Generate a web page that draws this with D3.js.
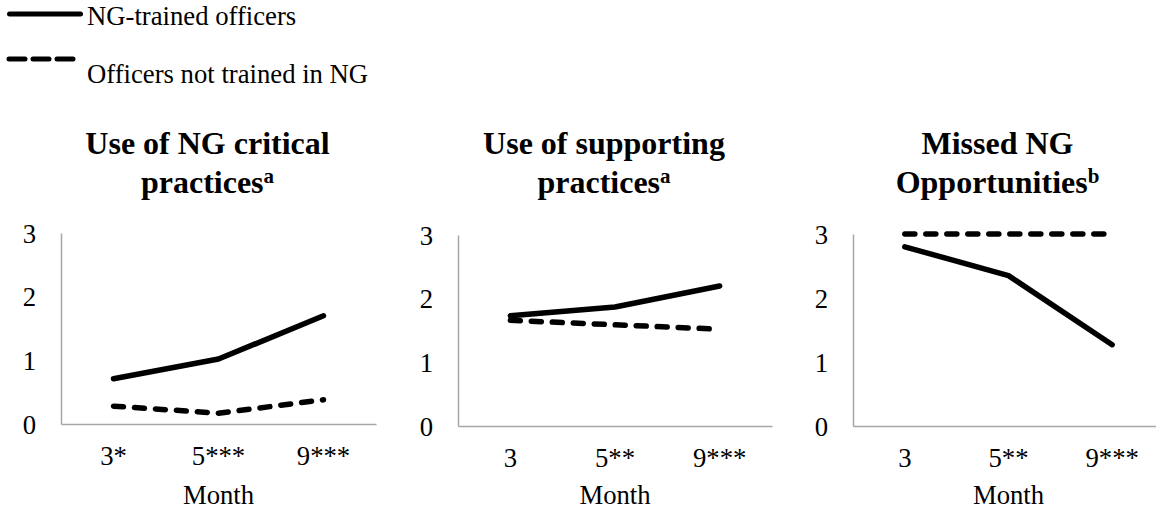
<!DOCTYPE html>
<html>
<head>
<meta charset="utf-8">
<script src="https://cdn.jsdelivr.net/npm/d3@7"></script>
<style>
  body { margin: 0; background: #fff; }
  text { font-family: "Liberation Serif", "Times New Roman", serif; fill: #000; }
</style>
</head>
<body>
<div id="main"></div>
<script>
// Datos
var seriesNames = ["NG-trained officers", "Officers not trained in NG"];
var panelTitles = [["Use of NG critical", "practices"], ["Use of supporting", "practices"], ["Missed NG", "Opportunities"]];
var titleNotes = ["a", "a", "b"];
var monthLabels = [["3*", "5***", "9***"], ["3", "5**", "9***"], ["3", "5**", "9***"]];
var trainedValues = [[0.71, 1.02, 1.70], [1.73, 1.87, 2.20], [2.80, 2.35, 1.27]];
var notTrainedValues = [[0.28, 0.17, 0.38], [1.66, 1.59, 1.52], [3.0, 3.0, 3.0]];
var yTicks = [0, 1, 2, 3];

// Geometría de cada panel
var panelLeft = [61, 458, 853];
var panelTop = [233, 235, 234];
var panelBottom = [424, 426, 426];
var panelWidth = [315, 314, 311];
var fontTick = 26.7;
var fontTitle = 32;
var axisColor = "#a6a6a6";
var dashSeries = "10,11";

var svg = d3.select("#main").append("svg")
	.attr("width", 1156)
	.attr("height", 510);

// Leyenda
var legend = svg.append("g");
legend.append("line")
	.attr("x1", 9.5).attr("x2", 80.5).attr("y1", 14).attr("y2", 14)
	.attr("stroke", "#000").attr("stroke-width", 5).attr("stroke-linecap", "round");
legend.append("line")
	.attr("x1", 9).attr("x2", 73).attr("y1", 59).attr("y2", 59)
	.attr("stroke", "#000").attr("stroke-width", 5).attr("stroke-linecap", "round")
	.attr("stroke-dasharray", "16,8");
legend.append("text").attr("x", 87).attr("y", 25)
	.attr("font-size", fontTick).text(seriesNames[0]);
legend.append("text").attr("x", 87).attr("y", 83)
	.attr("font-size", fontTick).text(seriesNames[1]);

panelTitles.forEach(function(title, i) {
	var x = d3.scaleBand()
		.domain(monthLabels[i])
		.range([panelLeft[i], panelLeft[i] + panelWidth[i]]);
	var y = d3.scaleLinear()
		.domain([0, 3])
		.range([panelBottom[i], panelTop[i]]);

	var g = svg.append("g");

	// Ejes
	var yAxis = g.append("g")
		.attr("transform", "translate(" + panelLeft[i] + ",0)")
		.call(d3.axisLeft(y).tickValues(yTicks).tickSize(0).tickPadding(25).tickFormat(d3.format("d")));
	var xAxis = g.append("g")
		.attr("transform", "translate(0," + panelBottom[i] + ")")
		.call(d3.axisBottom(x).tickSize(0).tickPadding(22));
	[yAxis, xAxis].forEach(function(ax) {
		ax.select(".domain").attr("stroke", axisColor).attr("stroke-width", 1.5);
		ax.selectAll("text").attr("font-size", fontTick)
			.attr("font-family", "Liberation Serif, Times New Roman, serif").attr("fill", "#000");
	});
	yAxis.selectAll("text").attr("dy", "0.34em");
	xAxis.selectAll("text").attr("dy", "0.71em");

	var cx = panelLeft[i] + panelWidth[i] / 2;
	g.append("text")
		.attr("x", cx).attr("y", 504)
		.attr("text-anchor", "middle")
		.attr("font-size", fontTick)
		.text("Month");

	// Título
	var tx = cx - 11;
	g.append("text")
		.attr("x", tx).attr("y", 154)
		.attr("text-anchor", "middle")
		.attr("font-size", fontTitle).attr("font-weight", "bold")
		.text(title[0]);
	var t2 = g.append("text")
		.attr("x", tx).attr("y", 193)
		.attr("text-anchor", "middle")
		.attr("font-size", fontTitle).attr("font-weight", "bold");
	t2.append("tspan").text(title[1]);
	t2.append("tspan").attr("dy", -10).attr("font-size", 21).text(titleNotes[i]);

	// Series
	var line = d3.line()
		.x(function(d, k) { return x(monthLabels[i][k]) + x.bandwidth() / 2; })
		.y(function(d) { return y(d); });

	g.append("path")
		.attr("d", line(trainedValues[i]))
		.attr("fill", "none").attr("stroke", "#000").attr("stroke-width", 5.5)
		.attr("stroke-linecap", "round").attr("stroke-linejoin", "round");
	g.append("path")
		.attr("d", line(notTrainedValues[i]))
		.attr("fill", "none").attr("stroke", "#000").attr("stroke-width", 5.5)
		.attr("stroke-linecap", "round").attr("stroke-linejoin", "round")
		.attr("stroke-dasharray", dashSeries);
});
</script>
</body>
</html>
